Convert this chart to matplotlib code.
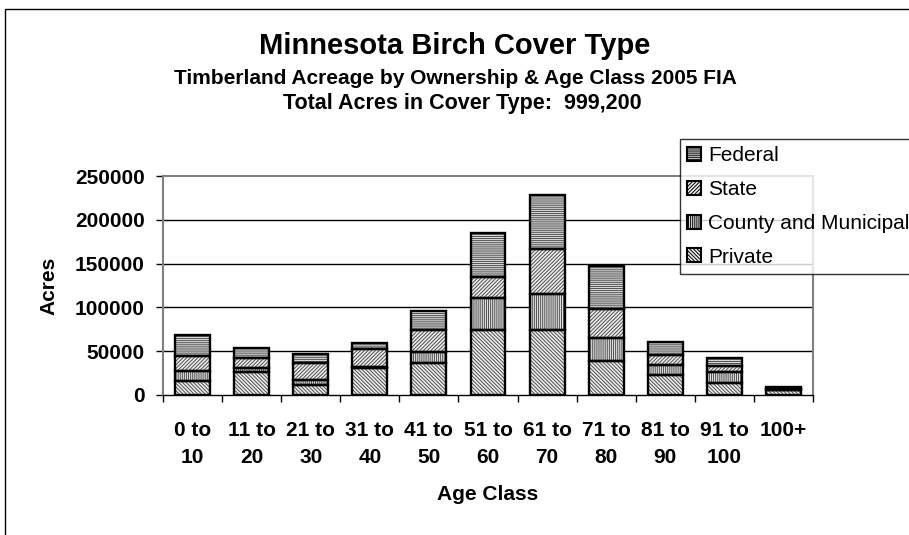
import matplotlib
matplotlib.use('Agg')
import matplotlib.pyplot as plt
import matplotlib.patches as mpatches
import numpy as np

plt.rcParams['font.family'] = ['Liberation Sans', 'DejaVu Sans']
plt.rcParams['hatch.linewidth'] = 0.7

# dados
classes = ['0 to\n10', '11 to\n20', '21 to\n30', '31 to\n40', '41 to\n50', '51 to\n60',
           '61 to\n70', '71 to\n80', '81 to\n90', '91 to\n100', '100+']
private = [16000, 25800, 11000, 30700, 36700, 73800, 74600, 38600, 22700, 14000, 5500]
county = [11300, 4900, 6000, 1000, 12500, 37500, 40900, 26500, 12100, 12100, 0]
state = [17300, 11300, 19000, 21300, 24600, 23900, 51100, 33000, 10600, 7200, 1000]
federal = [23600, 11400, 11300, 6400, 22000, 49600, 62100, 48800, 15200, 9100, 2600]

series = [('Private', private, '\\' * 9, '#ececec'),
          ('County and Municipal', county, '|' * 8, '#e0e0e0'),
          ('State', state, '/' * 9, '#ececec'),
          ('Federal', federal, '-' * 8, '#d8d8d8')]

fig = plt.figure(figsize=(9.09, 5.35), dpi=100)
ax = fig.add_axes([163/909, 1 - 395/535, 650/909, 219/535])

x = np.arange(len(classes))
bottom = np.zeros(len(classes))
for name, vals, hatch, fc in series:
    vals = np.array(vals)
    ax.bar(x, vals, 0.59, bottom=bottom, color=fc, edgecolor='#505050',
           hatch=hatch, linewidth=0, zorder=3)
    ax.bar(x, vals, 0.59, bottom=bottom, fill=False, edgecolor='black',
           linewidth=1.7, zorder=4)
    bottom += vals

ax.set_xlim(-0.5, 10.5)
ax.set_ylim(0, 250000)
ax.set_yticks(np.arange(0, 250001, 50000))
ax.set_yticklabels([str(v) for v in range(0, 250001, 50000)], fontsize=15, fontweight='bold')
ax.set_xticks(x)
ax.set_xticklabels(classes, fontsize=15, fontweight='bold', linespacing=1.5)
ax.set_xticks(np.arange(-0.5, 11, 1), minor=True)
ax.tick_params(axis='x', which='major', length=0, pad=19)
ax.tick_params(axis='x', which='minor', length=5, width=1, direction='out')
ax.tick_params(axis='y', length=5, width=1, direction='out', pad=8)

for v in range(50000, 250000, 50000):
    ax.axhline(v, color='black', linewidth=1, zorder=1)

for s in ['top', 'right', 'left']:
    ax.spines[s].set_color('#808080')
    ax.spines[s].set_linewidth(1.5)
ax.spines['bottom'].set_color('black')
ax.spines['bottom'].set_linewidth(1)

ax.set_xlabel('Age Class', fontsize=15, fontweight='bold', labelpad=13)
ax.set_ylabel('Acres', fontsize=15, fontweight='bold', labelpad=12)

fig.text(455/909, 1 - 46/535, 'Minnesota Birch Cover Type', fontsize=21,
         fontweight='bold', ha='center', va='center')
fig.text(455/909, 1 - 78/535, 'Timberland Acreage by Ownership & Age Class 2005 FIA',
         fontsize=15, fontweight='bold', ha='center', va='center')
fig.text(462/909, 1 - 103/535, 'Total Acres in Cover Type:  999,200',
         fontsize=15.5, fontweight='bold', ha='center', va='center')

handles = [mpatches.Patch(facecolor=fc, edgecolor='black', hatch=h, linewidth=1.5, label=n)
           for n, _, h, fc in reversed(series)]
leg = fig.legend(handles=handles, loc='upper left', bbox_to_anchor=(680/909, 1 - 139/535),
                 fontsize=15, frameon=True, fancybox=False, borderaxespad=0,
                 handlelength=0.65, handleheight=0.65, handletextpad=0.35,
                 labelspacing=0.71, borderpad=0.35)
leg.get_frame().set_edgecolor('black')
leg.get_frame().set_linewidth(1)

border = mpatches.Rectangle((5/909, -0.1), 2, 1 - 9/535 + 0.1, transform=fig.transFigure,
                            fill=False, edgecolor='black', linewidth=1, clip_on=False)
fig.add_artist(border)

fig.savefig('out.png', dpi=100)
